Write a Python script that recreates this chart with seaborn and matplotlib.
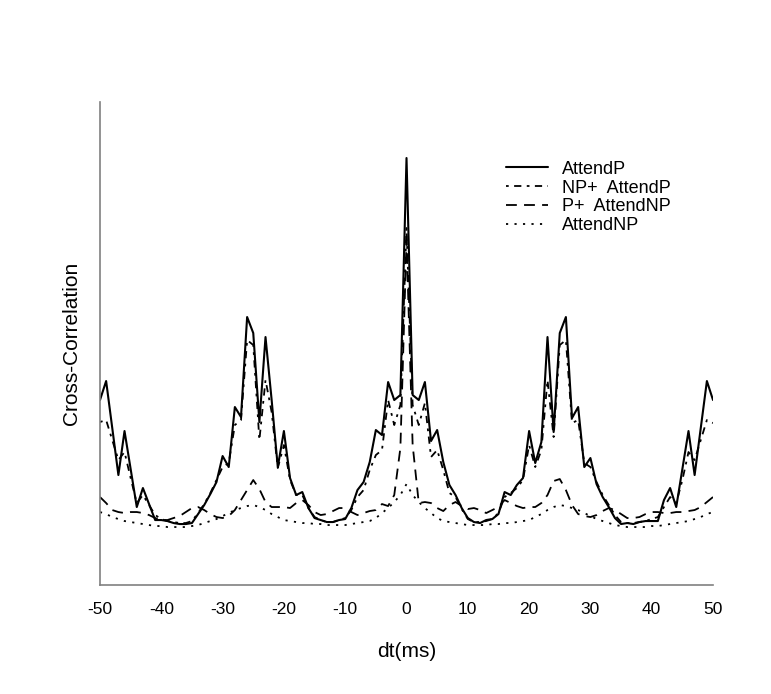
import matplotlib
matplotlib.use("Agg")
import matplotlib.pyplot as plt
import pandas as pd
import seaborn as sns

# lag axis (ms)
dt = list(range(-50, 51))

# cross-correlation values (arbitrary units)
attend_p = [185, 204, 157, 110, 154, 116, 78, 97, 81, 65,
            65, 64, 62, 61, 61, 62, 71, 80, 91, 103,
            129, 118, 178, 168, 268, 252, 163, 248, 185, 118,
            154, 107, 90, 93, 77, 67, 65, 63, 63, 65,
            66, 77, 95, 103, 123, 155, 150, 203, 185, 190,
            427,
            190, 185, 203, 144, 155, 123, 100, 90, 77, 67,
            63, 62, 65, 66, 71, 93, 90, 100, 107, 154,
            122, 143, 248, 153, 252, 268, 167, 178, 118, 127,
            101, 88, 78, 67, 61, 62, 61, 63, 64, 64,
            64, 85, 97, 78, 116, 154, 110, 157, 204, 185]

np_attend_p = [163, 165, 145, 125, 133, 107, 82, 90, 80, 70,
               66, 64, 63, 62, 62, 64, 72, 81, 92, 105,
               118, 122, 160, 165, 245, 240, 145, 205, 173, 117,
               140, 105, 90, 90, 77, 68, 65, 63, 63, 65,
               67, 75, 88, 95, 115, 130, 135, 185, 160, 180,
               357,
               180, 160, 182, 128, 135, 115, 92, 88, 76, 66,
               63, 63, 64, 66, 72, 88, 92, 97, 105, 140,
               118, 135, 205, 148, 240, 245, 162, 165, 122, 118,
               103, 90, 80, 70, 63, 62, 62, 63, 64, 66,
               68, 78, 88, 82, 105, 133, 125, 145, 165, 162]

p_attend_np = [88, 82, 75, 73, 72, 73, 73, 72, 70, 67,
               65, 65, 67, 69, 73, 77, 78, 75, 71, 68,
               67, 69, 75, 85, 95, 105, 96, 83, 78, 78,
               78, 77, 82, 85, 80, 73, 70, 71, 74, 77,
               77, 73, 70, 72, 74, 75, 81, 79, 90, 137,
               345,
               140, 82, 83, 82, 77, 74, 80, 83, 79, 76,
               77, 75, 72, 75, 78, 85, 82, 79, 77, 78,
               78, 82, 90, 104, 106, 95, 80, 71, 69, 68,
               70, 74, 77, 75, 71, 67, 67, 68, 71, 73,
               73, 72, 72, 73, 73, 74, 75, 78, 83, 88]

attend_np = [73, 71, 68, 66, 64, 63, 62, 61, 60, 59,
             59, 58, 58, 58, 58, 59, 60, 62, 64, 66,
             69, 72, 75, 77, 79, 80, 78, 75, 71, 68,
             65, 64, 63, 62, 62, 61, 61, 60, 60, 60,
             60, 61, 62, 63, 64, 67, 72, 77, 83, 90,
             101,
             90, 83, 77, 72, 67, 64, 63, 62, 61, 60,
             60, 60, 60, 61, 61, 62, 62, 63, 64, 65,
             68, 71, 75, 78, 80, 79, 77, 75, 72, 69,
             66, 64, 62, 60, 59, 58, 58, 58, 58, 59,
             59, 60, 61, 62, 63, 64, 66, 68, 71, 73]

labels = ["AttendP", "NP+  AttendP", "P+  AttendNP", "AttendNP"]
series = [attend_p, np_attend_p, p_attend_np, attend_np]

df = pd.DataFrame({"dt": dt})
for lab, vals in zip(labels, series):
    df[lab] = vals
long_df = df.melt(id_vars="dt", var_name="condition", value_name="cc")

sns.set_style("white")
plt.rcParams["font.family"] = ["Liberation Sans", "DejaVu Sans"]
plt.rcParams["axes.unicode_minus"] = False
plt.rcParams["text.color"] = "black"
plt.rcParams["axes.labelcolor"] = "black"
plt.rcParams["xtick.color"] = "black"

fig = plt.figure(figsize=(7.71, 6.94), dpi=100)
ax = fig.add_axes([0.1297, 0.157, 0.7951, 0.696])

styles = {
    "AttendP": ("-", 1.5),
    "NP+  AttendP": ((0, (1.5, 3, 4, 3)), 1.3),
    "P+  AttendNP": ((0, (6, 4)), 1.3),
    "AttendNP": ((0, (1.2, 3.5)), 1.3),
}

for lab in labels:
    ls, lw = styles[lab]
    sns.lineplot(data=long_df[long_df["condition"] == lab], x="dt", y="cc",
                 color="black", linestyle=ls, linewidth=lw, label=lab, ax=ax)

ax.set_xlim(-50, 50)
ax.set_ylim(0, 483)
ax.set_xticks(range(-50, 51, 10))
ax.set_yticks([])
ax.tick_params(axis="x", length=0, pad=12, labelsize=12.5, labelcolor="black")
ax.set_xlabel("dt(ms)", fontsize=15, labelpad=18)
ax.set_ylabel("Cross-Correlation", fontsize=15, labelpad=14)

for side in ["top", "right"]:
    ax.spines[side].set_visible(False)
for side in ["left", "bottom"]:
    ax.spines[side].set_color("#808080")
    ax.spines[side].set_linewidth(1.2)

leg = ax.legend(loc="upper left", bbox_to_anchor=(0.636, 0.912), frameon=False,
                fontsize=13, handlelength=2.3, handletextpad=0.8, labelspacing=0.1)
for t in leg.get_texts():
    t.set_color("black")

fig.savefig("out.png", dpi=100)
